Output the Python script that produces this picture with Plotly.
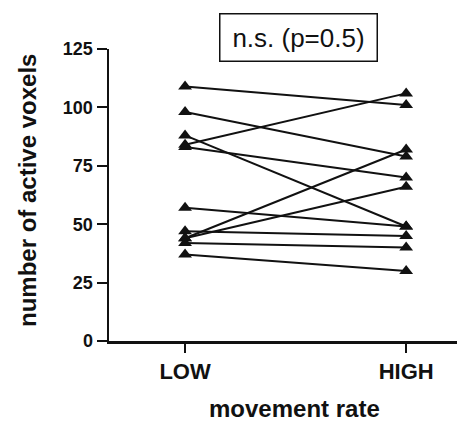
import plotly.graph_objects as go

categories = ["LOW", "HIGH"]
low_values = [109, 98, 88, 84, 83, 57, 47, 44, 44, 42, 37]
high_values = [101, 79, 49, 106, 70, 49, 45, 82, 66, 40, 30]
y_ticks = [0, 25, 50, 75, 100, 125]

FONT = "Liberation Sans, Arial, sans-serif"

fig = go.Figure()
for lo, hi in zip(low_values, high_values):
    fig.add_trace(go.Scatter(
        x=[0, 1], y=[lo, hi], mode="lines+markers",
        line=dict(color="#111111", width=2),
        marker=dict(symbol="triangle-up", size=12, color="#111111"),
        showlegend=False, hoverinfo="skip", cliponaxis=False,
    ))

L, R, T, B = 109, 5, 49, 81
W, H = 462, 422
pw, ph = W - L - R, H - T - B

def px_x(x):
    return (x - L) / pw

def px_y(y):
    return (H - B - y) / ph

fig.update_layout(
    width=W, height=H,
    margin=dict(l=L, r=R, t=T, b=B),
    plot_bgcolor="white", paper_bgcolor="white",
    font=dict(family=FONT, color="#111111"),
    xaxis=dict(
        range=[-0.344, 1.23], tickvals=[0, 1], ticktext=categories,
        showgrid=False, zeroline=False, showline=True, linecolor="#111111", linewidth=2.5,
        ticks="outside", ticklen=9, tickwidth=2, tickcolor="#111111",
        tickfont=dict(size=22, family=FONT, color="#111111", weight="bold"),
    ),
    yaxis=dict(
        range=[0, 125], tickvals=y_ticks,
        showgrid=False, zeroline=False, showline=True, linecolor="#111111", linewidth=2.5,
        ticks="outside", ticklen=10, tickwidth=2, tickcolor="#111111",
        tickfont=dict(size=18, family=FONT, color="#111111", weight="bold"),
    ),
    annotations=[
        dict(text="<b>movement rate</b>", xref="paper", yref="paper",
             x=px_x(294), y=px_y(408), xanchor="center", yanchor="middle",
             showarrow=False, font=dict(size=24, family=FONT, color="#111111")),
        dict(text="<b>number of active voxels</b>", xref="paper", yref="paper",
             x=px_x(28), y=px_y(191), xanchor="center", yanchor="middle", textangle=-90,
             showarrow=False, font=dict(size=24, family=FONT, color="#111111")),
        dict(text="n.s. (p=0.5)", xref="paper", yref="paper",
             x=px_x(298), y=px_y(37), xanchor="center", yanchor="middle",
             showarrow=False, font=dict(size=26, family=FONT, color="#111111"),
             bordercolor="#111111", borderwidth=1.5, borderpad=1,
             width=154, height=44, bgcolor="white"),
    ],
)

fig.write_html("out.html", config={"displayModeBar": False, "staticPlot": True},
               post_script="document.body.style.margin='0';document.body.style.overflow='hidden';")
